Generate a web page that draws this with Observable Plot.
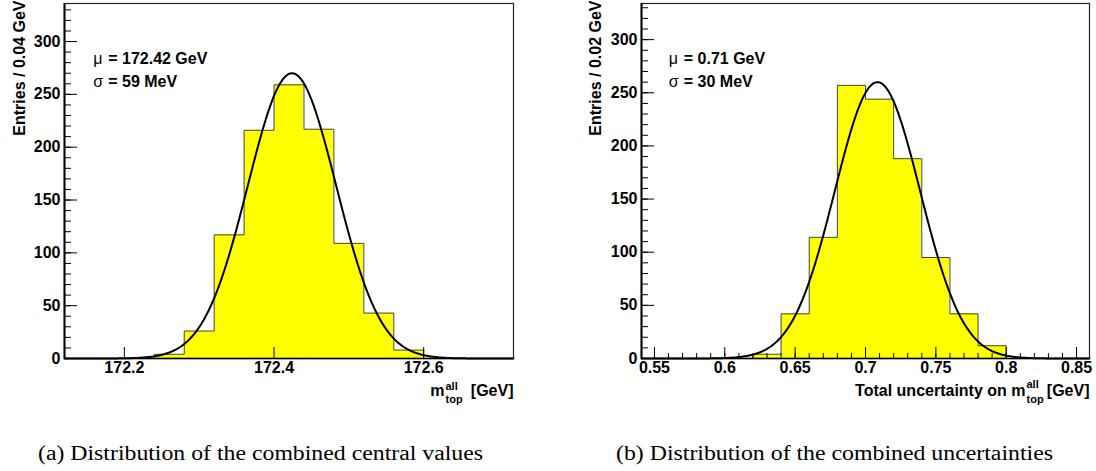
<!DOCTYPE html>
<html>
<head>
<meta charset="utf-8">
<script src="https://cdn.jsdelivr.net/npm/d3@7"></script>
<script src="https://cdn.jsdelivr.net/npm/@observablehq/plot@0.6"></script>
<style>
  body { margin: 0; background: #fff; }
  #wrap { position: relative; width: 1096px; height: 471px; overflow: hidden; background: #fff; }
  .panel { position: absolute; top: 0; }
  #caps { position: absolute; left: 0; top: 420px; }
</style>
</head>
<body>
<div id="wrap">
  <div id="pa" class="panel" style="left:0px"></div>
  <div id="pb" class="panel" style="left:548px"></div>
  <svg id="caps" width="1096" height="51"></svg>
</div>
<script>
// ---------- Panel (a): combined central values ----------
const binWidthA = 0.04;
const binStartsA = [172.24, 172.28, 172.32, 172.36, 172.40, 172.44, 172.48, 172.52, 172.56];
const countsA    = [4, 26, 117, 216, 259, 217, 109, 43, 8];
const fitMeanA = 172.424, fitSigmaA = 0.059, fitPeakA = 270;
const xDomainA = [172.12, 172.72];
const yDomainA = [0, 336];
const xTicksA = [172.2, 172.4, 172.6];
const yLabelA = "Entries / 0.04 GeV";
const statsA = ["= 172.42 GeV", "= 59 MeV"];

// ---------- Panel (b): combined uncertainties ----------
const binWidthB = 0.02;
const binStartsB = [0.62, 0.64, 0.66, 0.68, 0.70, 0.72, 0.74, 0.76, 0.78];
const countsB    = [4, 42, 114, 257, 244, 188, 95, 42, 12];
const fitMeanB = 0.7085, fitSigmaB = 0.0303, fitPeakB = 260;
const xDomainB = [0.5408, 0.8592];
const yDomainB = [0, 334];
const xTicksB = [0.55, 0.6, 0.65, 0.7, 0.75, 0.8, 0.85];
const xMinorTicksB = d3.range(55, 86).map(v => v / 100);
const yLabelB = "Entries / 0.02 GeV";
const statsB = ["= 0.71 GeV", "= 30 MeV"];

const yTicks = [0, 50, 100, 150, 200, 250, 300];
const yMinorTicks = d3.range(0, 331, 10);

const captions = ["(a) Distribution of the combined central values", "(b) Distribution of the combined uncertainties"];

function makePanel(cfg) {
  const W = 548, H = 420;
  const plotW = W - cfg.ml - cfg.mr;
  const plotH = H - cfg.mt - cfg.mb;
  const bins = cfg.starts.map((s, i) => ({x0: s, x1: +(s + cfg.bw).toFixed(6), count: cfg.counts[i]}));
  const outline = [{x: bins[0].x0, y: 0}, ...bins.map(b => ({x: b.x0, y: b.count})), {x: bins[bins.length - 1].x1, y: 0}];
  const n = 400;
  const curve = d3.range(n + 1).map(i => {
    const x = cfg.xd[0] + (cfg.xd[1] - cfg.xd[0]) * i / n;
    return {x, y: cfg.peak * Math.exp(-0.5 * ((x - cfg.mean) / cfg.sigma) ** 2)};
  });
  const marks = [
    Plot.rectY(bins, {x1: "x0", x2: "x1", y1: 0, y2: "count", fill: "#ffff00", inset: 0, shapeRendering: "crispEdges"}),
    Plot.line(outline, {x: "x", y: "y", curve: "step-after", stroke: "#444", strokeWidth: 1}),
    Plot.line(curve, {x: "x", y: "y", stroke: "#000", strokeWidth: 2}),
    Plot.frame({stroke: "#222", strokeWidth: 1.2}),
    Plot.ruleY([0], {stroke: "#000", strokeWidth: 1.6}),
    Plot.ruleX([cfg.xd[0]], {stroke: "#000", strokeWidth: 2}),
    Plot.tickY(yMinorTicks, {y: d => d, insetRight: plotW - 7, stroke: "#000", strokeWidth: 1}),
    Plot.tickY(yTicks, {y: d => d, insetRight: plotW - 13, stroke: "#000", strokeWidth: 1}),
    Plot.tickX(cfg.xTicks, {x: d => d, insetTop: plotH - 11, stroke: "#000", strokeWidth: 1}),
    Plot.axisY({ticks: yTicks, tickSize: 0, tickPadding: 4, label: null, tickFormat: d => String(d)}),
    Plot.axisX({ticks: cfg.xTicks, tickSize: 0, tickPadding: 3, label: null, tickFormat: d => String(d)}),
    Plot.text([cfg.yLabel], {text: d => d, frameAnchor: "top-left", rotate: -90, textAnchor: "end", lineAnchor: "bottom", dx: cfg.yLabelDx, dy: -3}),
    Plot.text(["\u03bc"], {text: d => d, frameAnchor: "top-left", textAnchor: "start", lineAnchor: "bottom", dx: cfg.statDx, dy: 60.5, fontWeight: "normal"}),
    Plot.text([cfg.stats[0]], {text: d => d, frameAnchor: "top-left", textAnchor: "start", lineAnchor: "bottom", dx: cfg.statDx + 15, dy: 60.5}),
    Plot.text(["\u03c3"], {text: d => d, frameAnchor: "top-left", textAnchor: "start", lineAnchor: "bottom", dx: cfg.statDx, dy: 83, fontWeight: "normal"}),
    Plot.text([cfg.stats[1]], {text: d => d, frameAnchor: "top-left", textAnchor: "start", lineAnchor: "bottom", dx: cfg.statDx + 15, dy: 83}),
    Plot.text(["[GeV]"], {text: d => d, frameAnchor: "bottom-right", textAnchor: "end", lineAnchor: "bottom", dx: 0, dy: 37}),
    Plot.text([cfg.xLabelMain], {text: d => d, frameAnchor: "bottom-right", textAnchor: "end", lineAnchor: "bottom", dx: cfg.scriptDx - 1, dy: 37}),
    Plot.text(["all"], {text: d => d, frameAnchor: "bottom-right", textAnchor: "start", lineAnchor: "bottom", dx: cfg.scriptDx, dy: cfg.supDy, fontSize: 11}),
    Plot.text(["top"], {text: d => d, frameAnchor: "bottom-right", textAnchor: "start", lineAnchor: "bottom", dx: cfg.scriptDx, dy: cfg.subDy, fontSize: 11})
  ];
  if (cfg.xMinor) {
    marks.push(Plot.tickX(cfg.xMinor, {x: d => d, insetTop: plotH - 5, stroke: "#000", strokeWidth: 1}));
  }
  return Plot.plot({
    width: W, height: H,
    marginLeft: cfg.ml, marginRight: cfg.mr, marginTop: cfg.mt, marginBottom: cfg.mb,
    x: {domain: cfg.xd, axis: null},
    y: {domain: cfg.yd, axis: null},
    style: {fontFamily: "'Liberation Sans', Arial, Helvetica, sans-serif", fontSize: "16px", fontWeight: "bold", color: "#000", background: "transparent", overflow: "visible"},
    marks
  });
}

document.getElementById("pa").append(makePanel({
  starts: binStartsA, counts: countsA, bw: binWidthA, mean: fitMeanA, sigma: fitSigmaA, peak: fitPeakA,
  xd: xDomainA, yd: yDomainA, xTicks: xTicksA, xMinor: null, yLabel: yLabelA, stats: statsA,
  ml: 64, mr: 35, mt: 3, mb: 62, yLabelDx: -40, statDx: 28.7,
  xLabelMain: "m", scriptDx: -68, supDy: 31, subDy: 44.5
}));

document.getElementById("pb").append(makePanel({
  starts: binStartsB, counts: countsB, bw: binWidthB, mean: fitMeanB, sigma: fitSigmaB, peak: fitPeakB,
  xd: xDomainB, yd: yDomainB, xTicks: xTicksB, xMinor: xMinorTicksB, yLabel: yLabelB, stats: statsB,
  ml: 93, mr: 7, mt: 3, mb: 62, yLabelDx: -40.5, statDx: 27.3,
  xLabelMain: "Total uncertainty on m", scriptDx: -63, supDy: 29, subDy: 44.5
}));

// captions below the charts
const caps = d3.select("#caps");
const capPos = [{x: 38, len: 445}, {x: 616, len: 437}];
captions.forEach((c, i) => {
  caps.append("text")
    .attr("x", capPos[i].x).attr("y", 40)
    .attr("textLength", capPos[i].len).attr("lengthAdjust", "spacingAndGlyphs")
    .attr("font-family", "'Liberation Serif', 'Times New Roman', serif")
    .attr("font-size", 20).attr("fill", "#000")
    .text(c);
});
</script>
</body>
</html>
